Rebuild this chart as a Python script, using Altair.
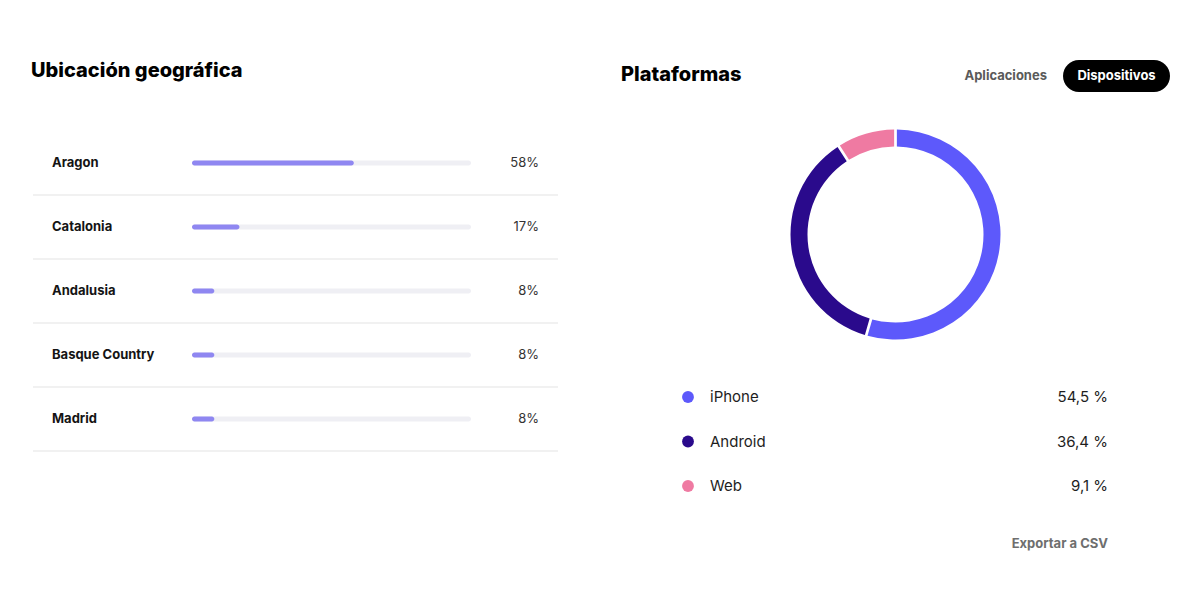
import altair as alt
import pandas as pd

# ---------------- data ----------------
regions = ["Aragon", "Catalonia", "Andalusia", "Basque Country", "Madrid"]
region_pct = [58, 17, 8, 8, 8]
region_labels = ["58%", "17%", "8%", "8%", "8%"]

platforms = ["iPhone", "Android", "Web"]
platform_pct = [54.5, 36.4, 9.1]
platform_labels = ["54,5 %", "36,4 %", "9,1 %"]
platform_colors = ["#5d59fb", "#2a0a8c", "#ef7aa2"]

left_title = ["Ubicación geográfica"]
right_title = ["Plataformas"]
tab_inactive = ["Aplicaciones"]
tab_active = ["Dispositivos"]
export_label = ["Exportar a CSV"]

# ---------------- tables ----------------
reg = pd.DataFrame({
    "region": regions,
    "pct": region_pct,
    "label": region_labels,
    "zero": [0] * len(regions),
    "full": [100] * len(regions),
})
plat = pd.DataFrame({
    "platform": platforms,
    "pct": platform_pct,
    "label": platform_labels,
    "order": list(range(len(platforms))),
})

O = 8  # page margin offset
W, H = 1180, 560
FONT = "Inter"

xbar = alt.Scale(domain=[0, 100], range=[192 - O, 471 - O])
yreg = alt.Scale(type="point", domain=regions, range=[163 - O, 419 - O], padding=0)
yplat = alt.Scale(type="point", domain=platforms, range=[397 - O, 486 - O], padding=0)
cplat = alt.Scale(domain=platforms, range=platform_colors)

Y_REG = alt.Y("region:N", scale=yreg, axis=None)
Y_PLAT = alt.Y("platform:N", scale=yplat, axis=None)

# ---------------- left panel ----------------
separators = alt.Chart(reg).mark_rule(color="#ededed", strokeWidth=1.5, yOffset=32).encode(
    x=alt.value(33 - O), x2=alt.value(558 - O), y=Y_REG
)
track = alt.Chart(reg).mark_bar(size=5, cornerRadius=2.5, color="#efeff4").encode(
    x=alt.X("zero:Q", scale=xbar, axis=None), x2="full:Q", y=Y_REG
)
fill = alt.Chart(reg).mark_bar(size=5, cornerRadius=2.5, color="#8f87f1").encode(
    x=alt.X("zero:Q", scale=xbar, axis=None), x2="pct:Q", y=Y_REG
)
reg_names = alt.Chart(reg).mark_text(
    align="left", baseline="middle", font=FONT, fontSize=13, fontWeight="bold", color="#141414"
).encode(x=alt.value(52 - O), y=Y_REG, text="region:N")
reg_vals = alt.Chart(reg).mark_text(
    align="right", baseline="middle", font=FONT, fontSize=13, color="#333333"
).encode(x=alt.value(539 - O), y=Y_REG, text="label:N")

t_left = alt.Chart(pd.DataFrame({"t": left_title})).mark_text(
    align="left", baseline="alphabetic", font=FONT, fontSize=20, fontWeight=800, color="#000000"
).encode(x=alt.value(31 - O), y=alt.value(77 - O), text="t:N")

# ---------------- right panel ----------------
t_right = alt.Chart(pd.DataFrame({"t": right_title})).mark_text(
    align="left", baseline="alphabetic", font=FONT, fontSize=20, fontWeight=800, color="#000000"
).encode(x=alt.value(621 - O), y=alt.value(81 - O), text="t:N")

t_tab1 = alt.Chart(pd.DataFrame({"t": tab_inactive})).mark_text(
    align="right", baseline="middle", font=FONT, fontSize=13, fontWeight="bold", color="#5a5a5a"
).encode(x=alt.value(1047 - O), y=alt.value(76 - O), text="t:N")

pill = alt.Chart(pd.DataFrame({"t": tab_active})).mark_rect(cornerRadius=16, color="#000000").encode(
    x=alt.value(1063 - O), x2=alt.value(1170 - O), y=alt.value(60 - O), y2=alt.value(92 - O)
)
t_tab2 = alt.Chart(pd.DataFrame({"t": tab_active})).mark_text(
    align="center", baseline="middle", font=FONT, fontSize=13, fontWeight="bold", color="#ffffff"
).encode(x=alt.value(1116.5 - O), y=alt.value(76 - O), text="t:N")

donut = alt.Chart(plat).mark_arc(innerRadius=88, outerRadius=105, padAngle=0.02).encode(
    theta=alt.Theta("pct:Q", stack=True),
    order=alt.Order("order:Q"),
    color=alt.Color("platform:N", scale=cplat, legend=None),
    x=alt.value(895.5 - O),
    y=alt.value(234.5 - O),
)

dots = alt.Chart(plat).mark_circle(size=140, opacity=1).encode(
    x=alt.value(688 - O), y=Y_PLAT, color=alt.Color("platform:N", scale=cplat, legend=None)
)
plat_names = alt.Chart(plat).mark_text(
    align="left", baseline="middle", font=FONT, fontSize=15, color="#1e1e1e"
).encode(x=alt.value(710 - O), y=Y_PLAT, text="platform:N")
plat_vals = alt.Chart(plat).mark_text(
    align="right", baseline="middle", font=FONT, fontSize=15, color="#1e1e1e"
).encode(x=alt.value(1108 - O), y=Y_PLAT, text="label:N")

t_export = alt.Chart(pd.DataFrame({"t": export_label})).mark_text(
    align="right", baseline="middle", font=FONT, fontSize=13, fontWeight="bold", color="#6e6e6e"
).encode(x=alt.value(1108 - O), y=alt.value(544 - O), text="t:N")

chart = alt.layer(
    separators, track, fill, reg_names, reg_vals, t_left,
    t_right, t_tab1, pill, t_tab2, donut, dots, plat_names, plat_vals, t_export,
).resolve_scale(
    x="independent", y="independent", color="independent", theta="independent"
).properties(
    width=W, height=H, padding=0, autosize=alt.AutoSizeParams(type="none"), background="#ffffff"
).configure_view(stroke=None)

chart.save("out.html", embed_options={"renderer": "svg", "actions": False})
